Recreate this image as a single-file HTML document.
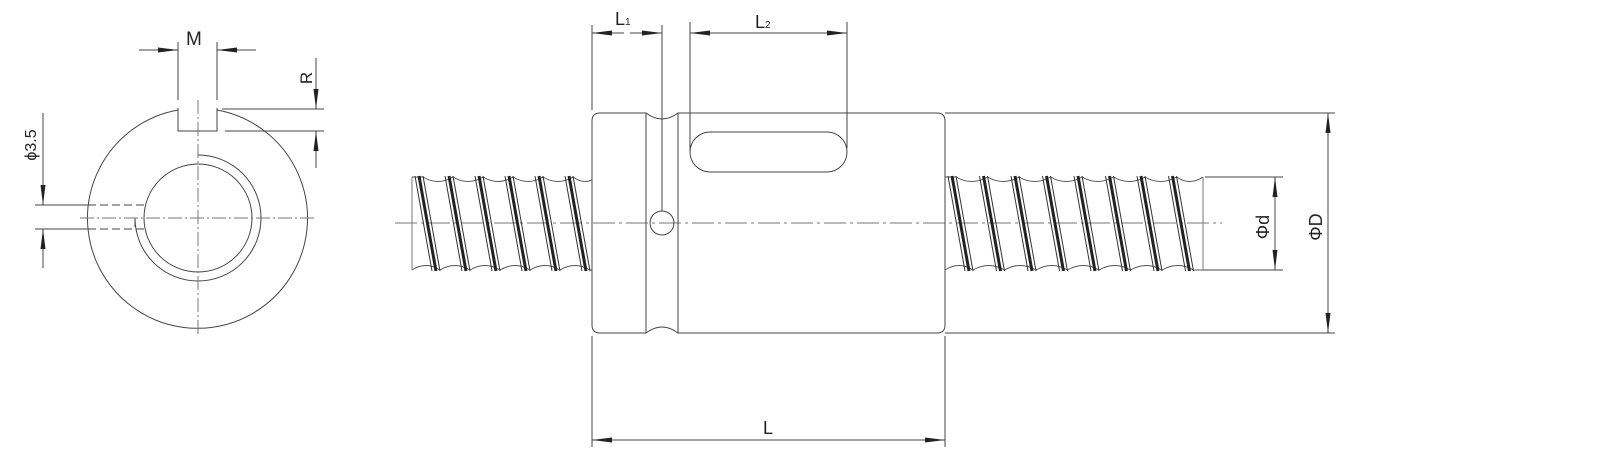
<!DOCTYPE html>
<html><head><meta charset="utf-8"><style>
html,body{margin:0;padding:0;background:#fff;}
svg{display:block;}
text{font-family:"Liberation Sans",sans-serif;fill:#222;}
</style></head><body>
<svg width="1610" height="461" viewBox="0 0 1610 461" xmlns="http://www.w3.org/2000/svg" xmlns:xlink="http://www.w3.org/1999/xlink">
<defs>
<marker id="a" viewBox="0 0 20 8" refX="20" refY="4" markerWidth="20" markerHeight="8" markerUnits="userSpaceOnUse" orient="auto-start-reverse"><path d="M0,1.5 L20,4 L0,6.5 Z" fill="#222"/></marker>
<g id="b" fill="none">
<line x1="0" y1="176" x2="17" y2="271" stroke="#333" stroke-width="1"/>
<line x1="4" y1="176" x2="21" y2="271" stroke="#222" stroke-width="3"/>
<line x1="8" y1="176" x2="25" y2="271" stroke="#333" stroke-width="1"/>
</g>
</defs>
<g fill="none" stroke="#444" stroke-width="1">
<path d="M178,110 A110,110 0 1 0 217,110" />
<path d="M178,108 L178,131 L217,131 L217,108"/>
<circle cx="198" cy="218" r="54"/>
<path d="M198,155 A63,63 0 1 1 135,218 L135,227" />
<line x1="198" y1="100" x2="198" y2="335" stroke-dasharray="14,3,2,3" stroke="#777"/>
<line x1="80" y1="218" x2="316" y2="218" stroke-dasharray="14,3,2,3" stroke="#777"/>
<line x1="35" y1="205" x2="88" y2="205"/><line x1="88" y1="205" x2="144" y2="205" stroke-dasharray="8,4"/>
<line x1="35" y1="229" x2="88" y2="229"/><line x1="88" y1="229" x2="144" y2="229" stroke-dasharray="8,4"/>
<line x1="43" y1="113" x2="43" y2="205" marker-end="url(#a)"/>
<line x1="43" y1="268" x2="43" y2="229" marker-end="url(#a)"/>
<line x1="178" y1="42" x2="178" y2="100"/><line x1="217" y1="42" x2="217" y2="100"/>
<line x1="139" y1="50" x2="178" y2="50" marker-end="url(#a)"/>
<line x1="256" y1="50" x2="217" y2="50" marker-end="url(#a)"/>
<line x1="222" y1="109" x2="324" y2="109"/><line x1="225" y1="131" x2="324" y2="131"/>
<line x1="316" y1="58" x2="316" y2="109" marker-end="url(#a)"/>
<line x1="316" y1="168" x2="316" y2="131" marker-end="url(#a)"/>
<line x1="395" y1="223" x2="1222" y2="223" stroke-dasharray="22,4,3,4" stroke="#777"/>
<path d="M600,113 L646,113 Q662,125 678,113 L937,113 Q945,113 945,121 L945,325 Q945,333 937,333 L678,333 Q662,321 646,333 L600,333 Q592,333 592,325 L592,121 Q592,113 600,113 Z"/>
<line x1="646" y1="113" x2="646" y2="333"/><line x1="678" y1="113" x2="678" y2="333"/>
<circle cx="662" cy="223" r="12"/>
<rect x="690" y="132" width="157" height="40" rx="20"/>
<line x1="592" y1="25" x2="592" y2="110"/><line x1="662" y1="25" x2="662" y2="211"/>
<line x1="624" y1="33" x2="592" y2="33" marker-end="url(#a)"/>
<line x1="630" y1="33" x2="662" y2="33" marker-end="url(#a)"/>
<line x1="690" y1="22" x2="690" y2="150"/><line x1="847" y1="22" x2="847" y2="148"/>
<line x1="770" y1="33" x2="690" y2="33" marker-end="url(#a)"/>
<line x1="770" y1="33" x2="847" y2="33" marker-end="url(#a)"/>
<line x1="592" y1="336" x2="592" y2="447"/><line x1="945" y1="336" x2="945" y2="447"/>
<line x1="770" y1="440" x2="592" y2="440" marker-end="url(#a)"/>
<line x1="770" y1="440" x2="945" y2="440" marker-end="url(#a)"/>
<line x1="945" y1="113" x2="1335" y2="113"/><line x1="945" y1="333" x2="1335" y2="333"/>
<line x1="1328" y1="223" x2="1328" y2="113" marker-end="url(#a)"/>
<line x1="1328" y1="223" x2="1328" y2="333" marker-end="url(#a)"/>
<line x1="1205" y1="177" x2="1283" y2="177"/><line x1="1200" y1="270" x2="1283" y2="270"/>
<line x1="1275" y1="223" x2="1275" y2="177" marker-end="url(#a)"/>
<line x1="1275" y1="223" x2="1275" y2="270" marker-end="url(#a)"/>
<path stroke="#555" d="M412,177 L423,177 Q438,186 453,177 Q468,186 483,177 Q498,186 513,177 Q528,186 543,177 Q558,186 573,177 Q583,184 592,180"/>
<path stroke="#555" d="M412,270 Q426,261 440,270 Q455,261 470,270 Q485,261 500,270 Q515,261 530,270 Q545,261 560,270 Q575,261 590,270 L592,270"/>
<line x1="412" y1="177" x2="412" y2="270" stroke="#777"/>
<path stroke="#555" d="M945,177 L956,177 Q971.75,186 987.5,177 Q1003.25,186 1019,177 Q1034.75,186 1050.5,177 Q1066.25,186 1082,177 Q1097.75,186 1113.5,177 Q1129.25,186 1145,177 Q1160.75,186 1176.5,177 Q1189.75,186 1203,177"/>
<path stroke="#555" d="M945,270 Q959,261 973,270 Q988.75,261 1004.5,270 Q1020.25,261 1036,270 Q1051.75,261 1067.5,270 Q1083.25,261 1099,270 Q1114.75,261 1130.5,270 Q1146.25,261 1162,270 Q1177.75,261 1193.5,270 L1203,270"/>
<line x1="1203" y1="177" x2="1203" y2="270" stroke="#777"/>
</g>
<use xlink:href="#b" href="#b" x="415"/>
<use xlink:href="#b" href="#b" x="445"/>
<use xlink:href="#b" href="#b" x="475"/>
<use xlink:href="#b" href="#b" x="505"/>
<use xlink:href="#b" href="#b" x="535"/>
<use xlink:href="#b" href="#b" x="565"/>
<use xlink:href="#b" href="#b" x="948"/>
<use xlink:href="#b" href="#b" x="979.5"/>
<use xlink:href="#b" href="#b" x="1011"/>
<use xlink:href="#b" href="#b" x="1042.5"/>
<use xlink:href="#b" href="#b" x="1074"/>
<use xlink:href="#b" href="#b" x="1105.5"/>
<use xlink:href="#b" href="#b" x="1137"/>
<use xlink:href="#b" href="#b" x="1168.5"/>
<text x="186" y="45" font-size="19">M</text>
<text x="312" y="78" font-size="17" transform="rotate(-90 312 78)" text-anchor="middle">R</text>
<text x="36" y="145" font-size="16" transform="rotate(-90 36 145)" text-anchor="middle">ϕ3.5</text>
<text x="615" y="25" font-size="18">L<tspan font-size="10">1</tspan></text>
<text x="755" y="28" font-size="18">L<tspan font-size="10">2</tspan></text>
<text x="763" y="434" font-size="18">L</text>
<text x="1269" y="227" font-size="18" transform="rotate(-90 1269 227)" text-anchor="middle">Φd</text>
<text x="1322" y="227" font-size="18" transform="rotate(-90 1322 227)" text-anchor="middle">ΦD</text>
</svg>
</body></html>
